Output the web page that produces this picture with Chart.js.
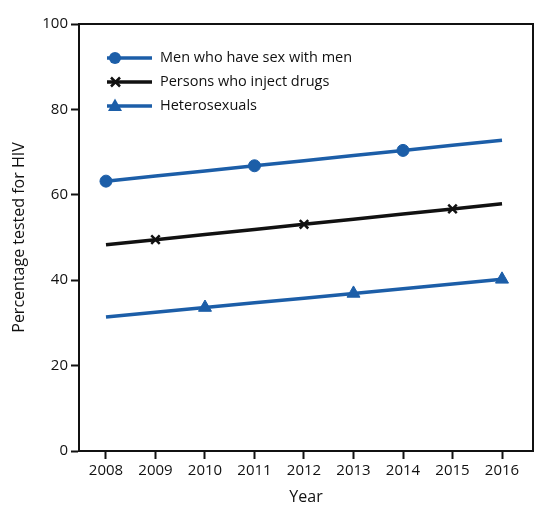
<!DOCTYPE html><html><head><script src="https://cdn.jsdelivr.net/npm/chart.js@4"></script>
<style>body{margin:0;background:#fff}#w{width:550px;height:511px}</style></head><body><div id="w"><canvas id="c"></canvas></div>
<script>
const years=[2008,2009,2010,2011,2012,2013,2014,2015,2016];
const msm=[63.2,64.4,65.6,66.8,68.0,69.2,70.4,71.6,72.8];
const pwid=[48.3,49.5,50.7,51.9,53.1,54.3,55.5,56.7,57.9];
const het=[31.4,32.5,33.6,34.7,35.8,36.9,38.0,39.1,40.2];
const labels=['Men who have sex with men','Persons who inject drugs','Heterosexuals'];
const yTicks=[0,20,40,60,80,100];
const blue='#1c5ea8',blk='#111';
const mk=(arr,on,r)=>arr.map((v,i)=>on.includes(i)?r:0);
const ds=(l,d,c,ps,on,r)=>({label:l,data:years.map((y,i)=>({x:y,y:d[i]})),borderColor:c,backgroundColor:c,borderWidth:3.5,pointStyle:ps,pointRadius:mk(d,on,r),pointBorderWidth:ps==='crossRot'?2.5:1,pointHoverRadius:0,tension:0});
const F="'Open Sans',sans-serif";
const legendPlugin={id:'lg',afterDraw(ch){const c=ch.ctx;c.save();ch.data.datasets.forEach((d,i)=>{const y=58+i*24;c.strokeStyle=d.borderColor;c.lineWidth=3.5;c.beginPath();c.moveTo(107,y);c.lineTo(152,y);c.stroke();c.fillStyle=d.borderColor;c.lineWidth=2.5;
if(d.pointStyle==='circle'){c.beginPath();c.arc(115,y,6,0,7);c.fill();}
else if(d.pointStyle==='crossRot'){c.beginPath();c.moveTo(111,y-4.5);c.lineTo(120,y+4.5);c.moveTo(120,y-4.5);c.lineTo(111,y+4.5);c.stroke();}
else {c.beginPath();c.moveTo(115,y-7.5);c.lineTo(122,y+5);c.lineTo(108,y+5);c.closePath();c.fill();}
c.fillStyle='#111';c.font="14.5px "+F;c.textBaseline='middle';c.fillText(d.label,160,y);});c.restore();}};
const gridOpt={display:true,drawOnChartArea:false,drawTicks:true,tickLength:8,tickColor:'#111',tickWidth:2};
new Chart(document.getElementById('c'),{type:'line',data:{datasets:[ds(labels[0],msm,blue,'circle',[0,3,6],6),ds(labels[1],pwid,blk,'crossRot',[1,4,7],6),ds(labels[2],het,blue,'triangle',[2,5,8],7.5)]},
options:{responsive:true,maintainAspectRatio:false,animation:false,layout:{padding:{top:24,right:17,left:6,bottom:0}},
plugins:{legend:{display:false},tooltip:{enabled:false}},
scales:{x:{type:'linear',min:2007.455,max:2016.626,afterBuildTicks:a=>{a.ticks=years.map(v=>({value:v}));},afterFit:a=>{a.height=60;},
ticks:{color:'#111',font:{family:F,size:15},callback:v=>String(v),autoSkip:false,maxRotation:0,padding:3},
grid:gridOpt,border:{color:'#111',width:2},
title:{display:true,text:'Year',color:'#111',font:{family:F,size:16},padding:{top:4}}},
y:{min:0,max:100,afterBuildTicks:a=>{a.ticks=yTicks.map(v=>({value:v}));},afterFit:a=>{a.width=73;},
ticks:{color:'#111',font:{family:F,size:15},padding:3},grid:gridOpt,border:{color:'#111',width:2},
title:{display:true,text:'Percentage tested for HIV',color:'#111',font:{family:F,size:16},padding:{bottom:4}}}}},
plugins:[legendPlugin,{id:'frame',afterDraw(ch){const a=ch.chartArea,c=ch.ctx;c.save();c.strokeStyle='#111';c.lineWidth=2;c.beginPath();c.moveTo(a.left,a.top);c.lineTo(a.right,a.top);c.lineTo(a.right,a.bottom);c.stroke();c.restore();}}]});
</script></body></html>
